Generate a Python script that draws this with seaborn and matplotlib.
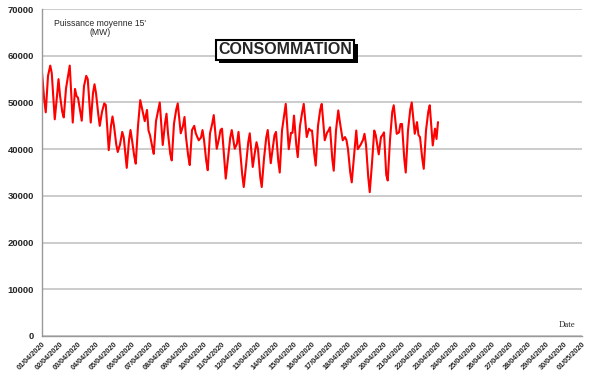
import pandas as pd
import matplotlib
matplotlib.use("Agg")
import matplotlib.pyplot as plt
import matplotlib.patheffects as pe
import seaborn as sns

# Puissance moyenne 15' (MW), relevée à quelques heures de chaque jour
jours = pd.date_range("2020-04-01", periods=22, freq="D")
heures = [0, 3, 5, 8, 11, 13, 17, 20, 22]
conso_jour = [
    [56400, 50500, 47900, 55700, 57900, 56300, 46400, 51400, 55000],  # 01/04
    [51500, 48000, 46800, 53000, 56000, 57900, 45700, 52900, 51400],  # 02/04
    [51000, 48000, 46100, 53500, 55700, 55000, 45700, 52000, 53900],  # 03/04
    [52000, 47500, 45000, 48000, 49800, 49500, 39800, 45000, 47000],  # 04/04
    [45000, 41000, 39400, 41000, 43700, 42500, 36000, 41900, 44100],  # 05/04
    [42000, 38500, 36900, 45000, 50500, 49000, 46000, 48400, 44000],  # 06/04
    [43000, 40500, 39000, 46000, 48400, 50000, 40900, 45500, 47600],  # 07/04
    [43400, 39000, 37600, 45500, 48500, 49800, 43400, 45000, 46900],  # 08/04
    [42600, 38500, 36600, 44100, 45000, 43400, 41900, 42500, 44100],  # 09/04
    [42000, 37500, 35500, 43400, 45500, 47300, 40100, 42300, 44100],  # 10/04
    [44400, 38000, 33700, 38000, 42500, 44100, 40100, 41200, 43700],  # 11/04
    [40000, 34500, 31900, 36500, 41500, 43400, 36200, 39500, 41500],  # 12/04
    [40000, 34000, 31900, 38000, 42500, 44100, 37000, 40500, 43000],  # 13/04
    [43700, 37500, 35000, 44000, 47500, 49700, 40000, 43500, 43500],  # 14/04
    [47200, 41000, 38300, 45000, 48000, 49700, 42600, 44400, 44000],  # 15/04
    [44000, 39000, 36500, 45000, 48500, 49700, 41900, 43500, 44000],  # 16/04
    [44700, 38000, 35400, 44000, 48300, 46000, 41900, 42600, 41900],  # 17/04
    [40000, 35000, 32900, 38500, 44000, 40000, 41000, 42000, 43300],  # 18/04
    [41000, 34000, 30800, 37000, 44000, 43000, 38900, 42600, 43000],  # 19/04
    [43600, 34500, 33300, 42000, 48000, 49400, 43300, 43600, 45400],  # 20/04
    [45400, 38000, 35000, 44000, 48500, 50000, 43300, 45800, 43000],  # 21/04
    [42600, 38000, 35800, 44000, 48000, 49400, 40800, 44400, 42200],  # 22/04
]
derniere_valeur = 45800  # 23/04 00h

temps = [j + pd.Timedelta(hours=h) for j in jours for h in heures]
temps.append(pd.Timestamp("2020-04-23"))
valeurs = [v for jour in conso_jour for v in jour] + [derniere_valeur]
df = pd.DataFrame({"temps": temps, "puissance": valeurs})

sns.set_style("white")
plt.rcParams["font.family"] = ["Liberation Sans", "DejaVu Sans"]

fig = plt.figure(figsize=(6, 3.79), dpi=100)
ax = fig.add_axes([0.07, 0.1135, 0.9, 0.8625])

sns.lineplot(data=df, x="temps", y="puissance", color="#ff0000", linewidth=1.5, ax=ax)

# axes
ax.set_ylim(0, 70000)
ax.set_yticks(range(0, 70001, 10000))
ax.set_yticklabels([str(v) for v in range(0, 70001, 10000)], fontsize=6.8, fontweight="bold")
ticks_x = pd.date_range("2020-04-01", "2020-05-01", freq="D")
ax.set_xlim(ticks_x[0], ticks_x[-1])
ax.set_xticks(ticks_x)
ax.set_xticklabels([d.strftime("%d/%m/%Y") for d in ticks_x], rotation=45, ha="right",
                   rotation_mode="anchor", fontsize=5.3, fontweight="bold")
ax.tick_params(axis="x", direction="inout", length=3, width=0.8, color="#888888", pad=2)
ax.tick_params(axis="y", direction="out", length=2, width=0.8, color="#888888", pad=4)
ax.yaxis.grid(True, color="#c8c8c8", linewidth=1.3)
ax.set_axisbelow(True)
ax.set_xlabel("")
ax.set_ylabel("")
for cote in ["top", "right"]:
    ax.spines[cote].set_visible(False)
for cote in ["left", "bottom"]:
    ax.spines[cote].set_color("#999999")
    ax.spines[cote].set_linewidth(1)

# textes
fig.text(100 / 600, 1 - 28 / 379, "Puissance moyenne 15'\n(MW)", ha="center", va="center",
         fontsize=6.2, multialignment="center", linespacing=1.05)
fig.text(567 / 600, 1 - 325 / 379, "Date", ha="center", va="center", fontsize=6.3,
         family=["Liberation Serif", "DejaVu Serif"])
titre = fig.text(285 / 600, 1 - 50 / 379, "CONSOMMATION", ha="center", va="center",
                 fontsize=11.5, fontweight="bold",
                 bbox=dict(boxstyle="square,pad=0.15", facecolor="white",
                           edgecolor="black", linewidth=1.5))
titre.get_bbox_patch().set_path_effects(
    [pe.withSimplePatchShadow(offset=(2.5, -2.5), shadow_rgbFace="black", alpha=1)])

fig.savefig("out.png", dpi=100)
